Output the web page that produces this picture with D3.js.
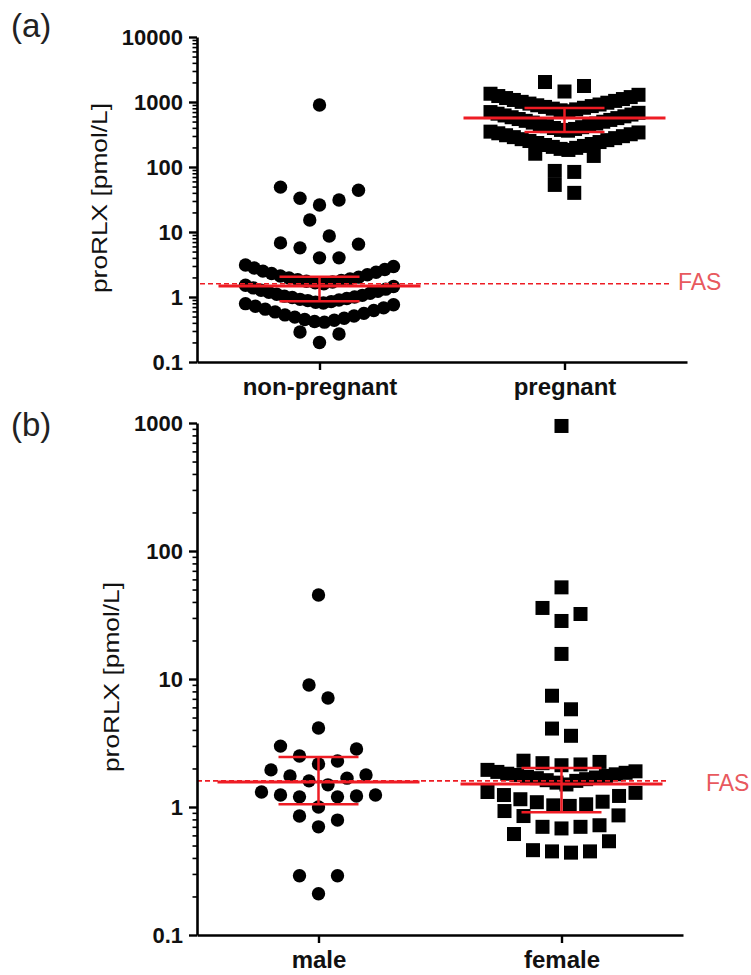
<!DOCTYPE html>
<html><head><meta charset="utf-8">
<script src="https://cdn.jsdelivr.net/npm/d3@7"></script>
<style>body{margin:0;background:#fff}svg{display:block}</style>
</head><body>
<svg id="chart" width="751" height="975"></svg>
<script>
// ---------- data: panel (a) ----------
const catsA = ["non-pregnant", "pregnant"];
const nonPregnant = [900, 49, 44, 33, 31, 26, 15.3, 8.7, 6.8, 6.5, 5.7, 4.0, 4.0,
  3.1, 2.95, 2.8, 2.65, 2.5, 2.4, 2.3, 2.2, 2.1, 2.02, 1.96, 1.9, 1.85, 1.8, 1.75, 1.7, 1.65, 1.6,
  1.52, 1.45, 1.38, 1.32, 1.27, 1.22, 1.18, 1.14, 1.1, 1.06, 1.03, 1.0, 0.98, 0.95, 0.92, 0.9, 0.88, 0.85, 0.83, 0.81,
  0.79, 0.76, 0.72, 0.68, 0.65, 0.62, 0.59, 0.56, 0.53, 0.51, 0.49, 0.47, 0.45, 0.44, 0.42, 0.41,
  0.29, 0.27, 0.2];
const pregnant = [2030, 1763, 1450,
  1340, 1290, 1235, 1190, 1150, 1110, 1075, 1040, 1005, 975, 945, 915, 890, 865, 840, 815, 790, 770, 745, 720,
  700, 682, 661, 641, 621, 602, 583, 565, 547, 530, 513, 497, 482, 467, 452, 438, 425, 410, 398, 385, 372, 362,
  350, 340, 330, 319, 308, 298, 288, 278, 268, 259, 251, 242, 234, 226, 218, 211, 204, 197, 190, 183,
  160, 148, 87, 84, 53, 40];
const medianA = [1.47, 567];
const lowerA = [0.86, 346];
const upperA = [2.05, 809];
const ticksA = [0.1, 1, 10, 100, 1000, 10000];
const tickLabelsA = ["0.1", "1", "10", "100", "1000", "10000"];

// ---------- data: panel (b) ----------
const catsB = ["male", "female"];
const male = [45.3, 8.97, 7.11, 4.14, 2.99, 2.84, 2.5, 2.29, 2.17, 1.95, 1.78, 1.75, 1.68, 1.6, 1.49,
  1.31, 1.24, 1.24, 1.22, 1.2, 1.2, 1.0, 0.85, 0.79, 0.7, 0.29, 0.29, 0.21];
const female = [948, 52, 35.9, 32.2, 28.4, 15.7, 7.4, 5.8, 4.1, 3.6,
  2.3, 2.25, 2.2, 2.15, 2.12,
  1.95, 1.9, 1.88, 1.85, 1.82, 1.8, 1.78, 1.75, 1.72, 1.7, 1.68, 1.65, 1.62, 1.6, 1.55, 1.5,
  1.31, 1.29, 1.24, 1.22, 1.15, 1.1, 1.09, 1.05, 1.03, 1.02,
  0.93, 0.86, 0.85, 0.72, 0.7, 0.7, 0.68,
  0.615, 0.54, 0.46, 0.45, 0.45, 0.44];
const medianB = [1.57, 1.51];
const lowerB = [1.05, 0.91];
const upperB = [2.46, 2.02];
const ticksB = [0.1, 1, 10, 100, 1000];
const tickLabelsB = ["0.1", "1", "10", "100", "1000"];

const fasValue = 1.6;
const fasLabel = "FAS";
const yTitle = "proRLX [pmol/L]";

// ---------- rendering ----------
const svg = d3.select("#chart");
svg.append("rect").attr("width", 751).attr("height", 975).attr("fill", "#fff");

const RED = "#ee1c24";
const FONT = "'Liberation Sans', Arial, Helvetica, sans-serif";

// Prism-like scatter layout: rows of nearby values, sorted ascending, placed centre-out
function swarm(values, y, rowPx, spacing, maxHalf) {
  const sorted = values.slice().sort((a, b) => a - b);
  const rows = [];
  let cur = null;
  for (const v of sorted) {
    const py = y(v);
    if (!cur || cur.y0 - py >= rowPx) { cur = { y0: py, pts: [] }; rows.push(cur); }
    cur.pts.push(v);
  }
  const out = [];
  rows.forEach(r => {
    const n = r.pts.length;
    const s = n > 1 ? Math.min(spacing, 2 * maxHalf / (n - 1)) : 0;
    r.pts.forEach((v, i) => {
      let k;
      if (n % 2 === 1) k = i === 0 ? 0 : (i % 2 === 1 ? (i + 1) / 2 : -(i / 2));
      else { const j = Math.floor(i / 2); k = (i % 2 === 0 ? 1 : -1) * (j + 0.5); }
      out.push({ v, dx: k * s });
    });
  });
  return out;
}

function isMajor(t) { const l = Math.log10(t); return Math.abs(l - Math.round(l)) < 1e-9; }

function panel(cfg) {
  const g = svg.append("g");
  const y = d3.scaleLog().domain(cfg.domain).range([cfg.bottom, cfg.top]);
  const x = d3.scalePoint().domain(cfg.cats).range([cfg.left, cfg.right]).padding(0.5);

  // points
  cfg.series.forEach((vals, si) => {
    const pts = swarm(vals, y, 19, cfg.spacing, 74);
    const cx = x(cfg.cats[si]);
    if (cfg.shapes[si] === "circle") {
      g.append("g").selectAll("circle").data(pts).join("circle")
        .attr("cx", d => cx + d.dx).attr("cy", d => y(d.v)).attr("r", 6.7).attr("fill", "#000");
    } else {
      g.append("g").selectAll("rect").data(pts).join("rect")
        .attr("x", d => cx + d.dx - 7).attr("y", d => y(d.v) - 7)
        .attr("width", 14).attr("height", 14).attr("fill", "#000");
    }
  });

  // FAS dashed line
  g.append("line").attr("x1", cfg.fasX1).attr("x2", cfg.fasX2)
    .attr("y1", y(fasValue)).attr("y2", y(fasValue))
    .attr("stroke", RED).attr("stroke-width", 1.6).attr("stroke-dasharray", "5,3");
  g.append("text").attr("x", cfg.fasTextX).attr("y", y(fasValue) + cfg.fasTextDy)
    .attr("font-family", FONT).attr("font-size", 23).attr("fill", "#e8595e").text(fasLabel);

  // median + error bars
  cfg.cats.forEach((c, i) => {
    const cx = x(c);
    const eg = g.append("g").attr("stroke", RED).attr("fill", "none");
    eg.append("line").attr("x1", cx).attr("x2", cx).attr("y1", y(cfg.lower[i])).attr("y2", y(cfg.upper[i])).attr("stroke-width", 2.5);
    eg.append("line").attr("x1", cx - 40).attr("x2", cx + 40).attr("y1", y(cfg.lower[i])).attr("y2", y(cfg.lower[i])).attr("stroke-width", 2.5);
    eg.append("line").attr("x1", cx - 40).attr("x2", cx + 40).attr("y1", y(cfg.upper[i])).attr("y2", y(cfg.upper[i])).attr("stroke-width", 2.5);
    eg.append("line").attr("x1", cx - 101).attr("x2", cx + 101).attr("y1", y(cfg.median[i])).attr("y2", y(cfg.median[i])).attr("stroke-width", 3);
  });

  // y axis: minor ticks
  const minor = y.ticks().filter(t => !isMajor(t));
  g.append("g").attr("transform", `translate(${cfg.left},0)`)
    .call(d3.axisLeft(y).tickValues(minor).tickSize(4.5).tickSizeOuter(0).tickFormat(""))
    .call(a => a.select(".domain").remove())
    .call(a => a.selectAll(".tick line").attr("stroke", "#000").attr("stroke-width", 1.6));
  // y axis: major ticks with labels
  g.append("g").attr("transform", `translate(${cfg.left},0)`)
    .call(d3.axisLeft(y).tickValues(cfg.majors).tickSize(8).tickSizeOuter(0).tickPadding(6)
      .tickFormat((d, i) => cfg.labels[i]))
    .call(a => a.select(".domain").attr("stroke", "#000").attr("stroke-width", 2.6))
    .call(a => a.selectAll(".tick line").attr("stroke", "#000").attr("stroke-width", 2.4))
    .call(a => a.selectAll("text").attr("font-family", FONT).attr("font-size", 22)
      .attr("font-weight", "bold").attr("fill", "#111"));

  // x axis
  g.append("g").attr("transform", `translate(0,${cfg.bottom})`)
    .call(d3.axisBottom(x).tickSize(8).tickSizeOuter(0).tickPadding(8))
    .call(a => a.select(".domain").attr("stroke", "#000").attr("stroke-width", 2.6))
    .call(a => a.selectAll(".tick line").attr("stroke", "#000").attr("stroke-width", 2.4))
    .call(a => a.selectAll("text").attr("font-family", FONT).attr("font-size", 24)
      .attr("font-weight", "bold").attr("fill", "#111"));

  // y title
  g.append("text").attr("transform", `translate(${cfg.titleX},${cfg.titleY}) rotate(-90)`)
    .attr("text-anchor", "middle").attr("font-family", FONT).attr("font-size", 22.5)
    .attr("fill", "#111").attr("textLength", 190).attr("lengthAdjust", "spacingAndGlyphs").text(yTitle);

  // panel label
  g.append("text").attr("x", 11).attr("y", cfg.labelY).attr("font-family", FONT)
    .attr("font-size", 33).attr("fill", "#222").text(cfg.panelLabel);
}

panel({
  cats: catsA, series: [nonPregnant, pregnant], shapes: ["circle", "square"],
  median: medianA, lower: lowerA, upper: upperA,
  domain: [0.1, 10000], majors: ticksA, labels: tickLabelsA,
  top: 37, bottom: 362, left: 197, right: 687, spacing: 19.5,
  fasX1: 200, fasX2: 670, fasTextX: 678, fasTextDy: 6,
  titleX: 107, titleY: 198, labelY: 37, panelLabel: "(a)"
});
panel({
  cats: catsB, series: [male, female], shapes: ["circle", "square"],
  median: medianB, lower: lowerB, upper: upperB,
  domain: [0.1, 1000], majors: ticksB, labels: tickLabelsB,
  top: 423, bottom: 935, left: 197, right: 683, spacing: 19,
  fasX1: 197, fasX2: 668, fasTextX: 706, fasTextDy: 10,
  titleX: 119, titleY: 677, labelY: 436, panelLabel: "(b)"
});
</script>
</body></html>
